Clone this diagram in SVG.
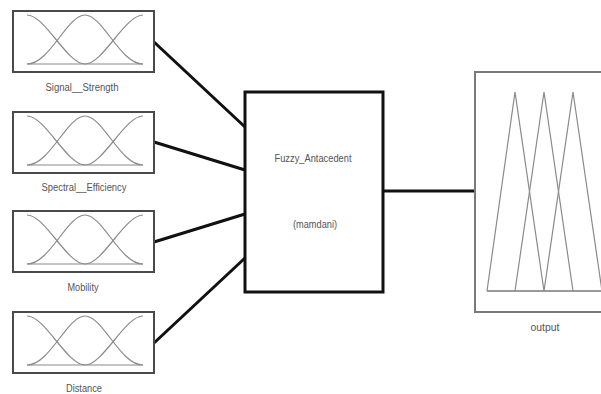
<svg xmlns="http://www.w3.org/2000/svg" xmlns:xlink="http://www.w3.org/1999/xlink" width="601" height="394" viewBox="0 0 601 394">
<style>
.inbox{fill:#fff;stroke:#4a4a4a;stroke-width:2}
.mf{fill:none;stroke:#8a8a8a;stroke-width:1.2}
.lbl{font-family:"Liberation Sans Narrow","Liberation Sans",Arial,sans-serif;font-size:10px;fill:#555;text-anchor:middle}
.conn{stroke:#111;stroke-width:3;fill:none;stroke-linecap:butt}
</style>
<defs>
<g id="mfset">
<rect class="inbox" x="13" y="0" width="141" height="61"/>
<path class="mf" d="M27,4 C45,4 67,53 85,53 L143,53"/>
<path class="mf" d="M27,53 C50,53 67,4 85,4 C103,4 120,53 143,53"/>
<path class="mf" d="M27,53 L85,53 C103,53 125,4 143,4"/>
</g>
</defs>
<rect x="0" y="0" width="601" height="394" fill="#fff"/>
<g id="connectors">
<line class="conn" x1="154" y1="42" x2="245" y2="127"/>
<line class="conn" x1="154" y1="142" x2="245" y2="170"/>
<line class="conn" x1="154" y1="242" x2="245" y2="214"/>
<line class="conn" x1="154" y1="343" x2="245" y2="258"/>
<line class="conn" x1="383" y1="191" x2="475" y2="191"/>
</g>
<g id="signal_strength">
<use xlink:href="#mfset" href="#mfset" y="11"/>
<text class="lbl" x="82" y="91" textLength="73" lengthAdjust="spacingAndGlyphs">Signal__Strength</text>
</g>
<g id="spectral_efficiency">
<use xlink:href="#mfset" href="#mfset" y="112"/>
<text class="lbl" x="84" y="191" textLength="85" lengthAdjust="spacingAndGlyphs">Spectral__Efficiency</text>
</g>
<g id="mobility">
<use xlink:href="#mfset" href="#mfset" y="211"/>
<text class="lbl" x="83" y="291" textLength="31" lengthAdjust="spacingAndGlyphs">Mobility</text>
</g>
<g id="distance">
<use xlink:href="#mfset" href="#mfset" y="312"/>
<text class="lbl" x="84" y="392" textLength="36" lengthAdjust="spacingAndGlyphs">Distance</text>
</g>
<g id="fuzzy_antacedent">
<rect x="245" y="92" width="138" height="200" fill="#fff" stroke="#111" stroke-width="3"/>
<text class="lbl" x="313" y="162" textLength="77" lengthAdjust="spacingAndGlyphs">Fuzzy_Antacedent</text>
<text class="lbl" x="315" y="228" textLength="44" lengthAdjust="spacingAndGlyphs">(mamdani)</text>
</g>
<g id="output">
<rect x="475" y="72" width="140" height="240" fill="#fff" stroke="#7a7a7a" stroke-width="2"/>
<line x1="487" y1="291" x2="605" y2="291" stroke="#777" stroke-width="1.5"/>
<polyline class="mf" points="487,291 515,92 544,291"/>
<polyline class="mf" points="515,291 544,92 573,291"/>
<polyline class="mf" points="544,291 573,92 602,291"/>
<text class="lbl" x="545" y="331" textLength="29" lengthAdjust="spacingAndGlyphs">output</text>
</g>
</svg>
